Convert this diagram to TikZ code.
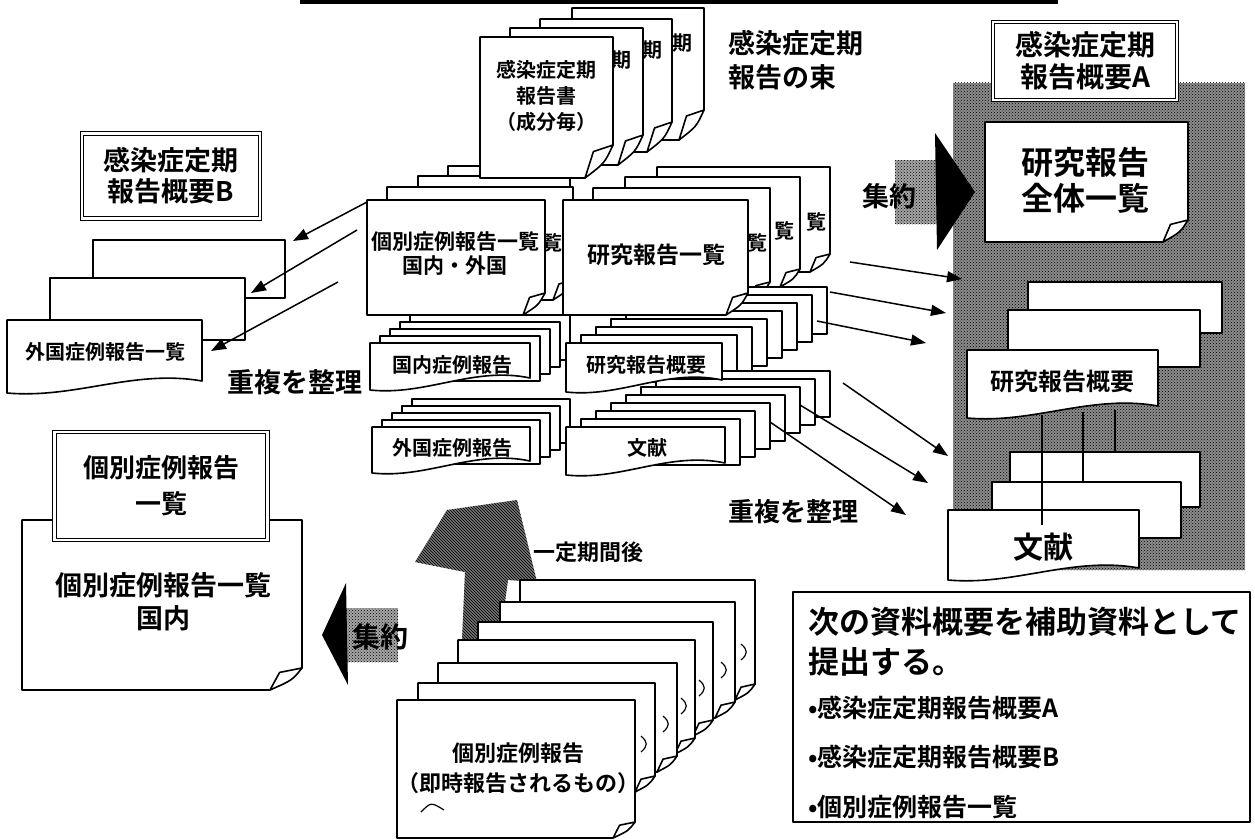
\documentclass[tikz,border=0pt]{standalone}
\usepackage{fontspec}
\setmainfont{Noto Sans CJK JP}[BoldFont={Noto Sans CJK JP Bold}]
\usetikzlibrary{patterns,arrows.meta}
\newcommand\jfs[2]{\fontsize{#1}{#2}\selectfont\bfseries}
\newcommand\curldoc[6]{%
  \filldraw[paper] (#1,#2) -- (#3,#2) -- (#3,{#4-#6}) -- ({#3-#5},#4) -- (#1,#4) -- cycle;
  \filldraw[paper] (#3,{#4-#6}) .. controls ({#3-0.3*#5},{#4-0.45*#6}) .. ({#3-#5},#4) -- ({#3-0.7*#5},{#4-0.8*#6}) -- cycle;}
\newcommand\wavydoc[4]{%
  \filldraw[paper] (#1,#2) -- (#3,#2) -- (#3,{#4-12}) .. controls ({0.65*#3+0.35*#1},{#4-24}) and ({0.35*#3+0.65*#1},{#4+6}) .. (#1,#4) -- cycle;}
\newcommand\paren[2]{\draw[line width=1.2pt] ({#1-2},{#2-8}) .. controls ({#1+5},{#2-2}) and ({#1+5},{#2+2}) .. ({#1-2},{#2+8});}
\begin{document}
\begin{tikzpicture}[x=1pt,y=-1pt,
  ln/.style={line width=1.6pt,line join=round},
  paper/.style={ln,fill=white},
  lbl/.style={inner sep=0pt,align=center},
  arr/.style={line width=1.5pt,-{Triangle[length=15pt,width=11pt]}},
  ttl/.style={draw,double,double distance=2.2pt,line width=1.1pt,fill=white}]
\useasboundingbox (0,0) rectangle (1255,840);
\fill[white] (0,0) rectangle (1255,840);
\fill[black] (300,0) rectangle (1058,4);

% ---- region A (stippled)
\fill[black!45] (953,83) rectangle (1245,570);
\fill[pattern=crosshatch dots,pattern color=black] (953,83) rectangle (1245,570);

% ---- middle: back layers of upper groups
\filldraw[paper] (448,166) rectangle (565,280);
\filldraw[paper] (418,176) rectangle (570,290);
\curldoc{387}{187}{573}{300}{20}{20}
\node[lbl,font=\jfs{20}{24}] (lv1) at (552,243) {覧};
\curldoc{657}{167}{830}{272}{20}{18}
\node[lbl,font=\jfs{20}{24}] (rv3) at (816,222) {覧};
\curldoc{625}{177}{800}{287}{20}{18}
\node[lbl,font=\jfs{20}{24}] (rv2) at (784,231) {覧};
\curldoc{593}{188}{770}{300}{20}{18}
\node[lbl,font=\jfs{20}{24}] (rv1) at (757,243) {覧};

% ---- top stack
\curldoc{572}{8}{704}{140}{25}{30}
\node[lbl,font=\jfs{20}{24}] (t4) at (682,43) {期};
\curldoc{540}{19}{672}{152}{25}{30}
\node[lbl,font=\jfs{20}{24}] (t3) at (652,50) {期};
\curldoc{510}{28}{643}{165}{25}{30}
\node[lbl,font=\jfs{20}{24}] (t2) at (621,60) {期};
\curldoc{480}{37}{613}{178}{28}{33}
\node[lbl,font=\jfs{20}{26}] (tsho) at (546,96) {感染症定期\\報告書\\（成分毎）};
\node[lbl,font=\jfs{27}{34},align=left,anchor=west] (taba) at (728,60) {感染症定期\\報告の束};

% ---- lower stacks: back layers
\foreach \k in {7,...,1} {\filldraw[paper] ({566+15*\k},{343-8*\k}) rectangle ({722+15*\k},{390-8*\k});}
\foreach \k in {7,...,1} {\filldraw[paper] ({566+15*\k},{427-8*\k}) rectangle ({725+15*\k},{473-8*\k});}
\foreach \k in {4,...,1} {\filldraw[paper] ({370+10*\k},{343-7*\k}) rectangle ({530+10*\k},{388-7*\k});}
\foreach \k in {4,...,1} {\filldraw[paper] ({372+10*\k},{427-7*\k}) rectangle ({530+10*\k},{471-7*\k});}

% ---- upper fronts
\curldoc{367}{200}{545}{315}{22}{22}
\node[lbl,font=\jfs{21}{24}] (kobetsu) at (455,254) {個別症例報告一覧\\国内・外国};
\curldoc{563}{200}{748}{315}{22}{22}
\node[lbl,font=\jfs{23}{26}] (kenkyu) at (656,255) {研究報告一覧};

% ---- lower fronts
\wavydoc{370}{343}{530}{390}
\node[lbl,font=\jfs{20}{24}] (kokunai) at (452,365) {国内症例報告};
\wavydoc{566}{343}{722}{392}
\node[lbl,font=\jfs{20}{24}] (gaiyo) at (646,365) {研究報告概要};
\wavydoc{372}{427}{530}{473}
\node[lbl,font=\jfs{20}{24}] (gaikoku) at (452,448) {外国症例報告};
\wavydoc{566}{427}{725}{475}
\node[lbl,font=\jfs{20}{24}] (bunken) at (647,448) {文献};

% ---- B side
\node[ttl,minimum width=178pt,minimum height=85pt,lbl,font=\jfs{27}{31}] (titB) at (171,176) {感染症定期\\報告概要B};
\filldraw[paper] (93,240) rectangle (285,298);
\filldraw[paper] (50,278) rectangle (245,340);
\wavydoc{7}{320}{202}{393}
\node[lbl,font=\jfs{20}{24}] (gaikokuB) at (105,352) {外国症例報告一覧};
\coordinate (a1s) at (367,202); \coordinate (a1e) at (293,241);
\coordinate (a2s) at (357,230); \coordinate (a2e) at (251,293);
\coordinate (a3s) at (338,282); \coordinate (a3e) at (211,351);
\draw[arr] (a1s) -- (a1e);
\draw[arr] (a2s) -- (a2e);
\draw[arr] (a3s) -- (a3e);
\node[lbl,font=\jfs{27}{30}] (chofukuL) at (295,382) {重複を整理};

% ---- A side
\node[ttl,minimum width=184pt,minimum height=78pt,lbl,font=\jfs{28}{32}] (titA) at (1085,61) {感染症定期\\報告概要A};
\curldoc{985}{122}{1188}{242}{25}{22}
\node[lbl,font=\jfs{32}{36}] (zentai) at (1085,180) {研究報告\\全体一覧};
\filldraw[paper] (1028,282) rectangle (1222,333);
\filldraw[paper] (1008,310) rectangle (1200,367);
\wavydoc{967}{350}{1158}{418}
\node[lbl,font=\jfs{24}{28}] (gaiyoA) at (1062,381) {研究報告概要};
\filldraw[paper] (1010,452) rectangle (1200,507);
\filldraw[paper] (992,482) rectangle (1181,538);
\wavydoc{948}{510}{1139}{580}
\node[lbl,font=\jfs{30}{34}] (bunkenA) at (1043,547) {文献};
\draw[ln] (1042,415) -- (1042,525);
\draw[ln] (1083,412) -- (1083,482);
\draw[ln] (1115,410) -- (1115,452);

% arrow 集約 to A
\fill[black!35] (895,160) rectangle (937,224);
\fill[pattern=crosshatch dots,pattern color=black] (895,160) rectangle (937,224);
\fill[black] (935,133) -- (975,192) -- (937,250) -- cycle;
\node[lbl,font=\jfs{27}{30}] (shuyakuR) at (889,196) {集約};

\coordinate (b1s) at (850,262); \coordinate (b1e) at (962,279);
\coordinate (b2s) at (830,292); \coordinate (b2e) at (946,313);
\coordinate (b3s) at (817,321); \coordinate (b3e) at (926,343);
\coordinate (b4s) at (843,383); \coordinate (b4e) at (948,456);
\coordinate (b5s) at (800,405); \coordinate (b5e) at (928,483);
\coordinate (b6s) at (770,422); \coordinate (b6e) at (906,515);
\foreach \i in {1,...,6} {\draw[arr] (b\i s) -- (b\i e);}
\node[lbl,font=\jfs{26}{30}] (chofukuR) at (793,512) {重複を整理};

% ---- bottom left
\curldoc{22}{520}{302}{690}{32}{22}
\node[lbl,font=\jfs{27}{33}] (kobetsuK) at (163,602) {個別症例報告一覧\\国内};
\node[ttl,minimum width=213pt,minimum height=108pt,lbl,font=\jfs{26}{36}] (titK) at (161,486) {個別症例報告\\一覧};
\fill[black!35] (346,608) rectangle (398,662);
\fill[pattern=crosshatch dots,pattern color=black] (346,608) rectangle (398,662);
\fill[black] (322,635) -- (346,583) -- (348,685) -- cycle;
\node[lbl,font=\jfs{28}{30}] (shuyakuL) at (380,637) {集約};

% ---- bottom centre: hatched arrow and doc stack
\fill[black!55] (415,562) -- (447,510) -- (517,500) -- (537,582) -- (508,580) -- (500,640) -- (462,640) -- (465,572) -- cycle;
\fill[pattern=north west lines,pattern color=black] (415,562) -- (447,510) -- (517,500) -- (537,582) -- (508,580) -- (500,640) -- (462,640) -- (465,572) -- cycle;
\node[lbl,font=\jfs{22}{26}] (ittei) at (588,552) {一定期間後};
\curldoc{520}{580}{755}{700}{20}{16} \paren{743}{652}
\curldoc{500}{602}{735}{718}{20}{16} \paren{723}{670}
\curldoc{478}{622}{713}{736}{20}{16} \paren{701}{688}
\curldoc{458}{640}{695}{754}{20}{16} \paren{683}{706}
\curldoc{438}{663}{677}{772}{20}{16} \paren{665}{724}
\curldoc{418}{683}{655}{792}{20}{16} \paren{643}{744}
\curldoc{397}{700}{635}{838}{22}{16}
\node[lbl,font=\jfs{22}{30}] (sokuji) at (518,768) {個別症例報告\\（即時報告されるもの）};
\draw[line width=1.2pt] (421,812) .. controls (431,802) .. (444,810);

% ---- bottom right note
\draw[ln] (793,592) rectangle (1250,822);
\node[lbl,anchor=west,font=\jfs{31}{36}] (n1) at (808,622) {次の資料概要を補助資料として};
\node[lbl,anchor=west,font=\jfs{31}{36}] (n2) at (808,662) {提出する。};
\node[lbl,anchor=west,font=\jfs{25}{30}] (n3) at (808,708) {•感染症定期報告概要A};
\node[lbl,anchor=west,font=\jfs{25}{30}] (n4) at (808,757) {•感染症定期報告概要B};
\node[lbl,anchor=west,font=\jfs{25}{30}] (n5) at (808,807) {•個別症例報告一覧};
\end{tikzpicture}
\end{document}
